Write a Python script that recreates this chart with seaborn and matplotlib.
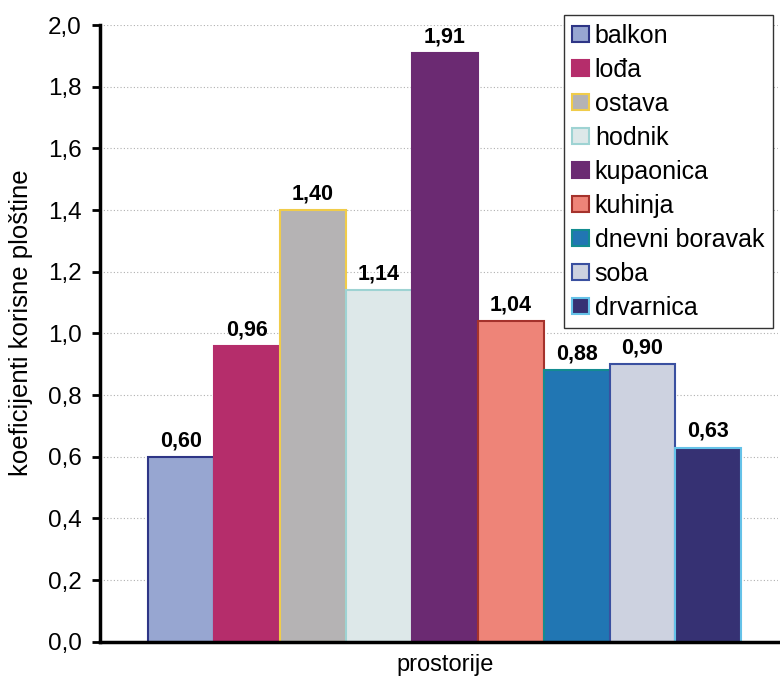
import pandas as pd
import matplotlib.pyplot as plt
import seaborn as sns
from matplotlib.patches import Patch
from matplotlib.ticker import FuncFormatter

rooms = ["balkon", "lođa", "ostava", "hodnik", "kupaonica", "kuhinja",
         "dnevni boravak", "soba", "drvarnica"]
values = [0.60, 0.96, 1.40, 1.14, 1.91, 1.04, 0.88, 0.90, 0.63]
faces = ["#97a6d1", "#b52d6b", "#b5b3b4", "#dde8e9", "#6b2a72",
         "#ee8478", "#2176b3", "#cdd2e0", "#363173"]
edges = ["#2e3586", "#b52d6b", "#f0cc4a", "#9ed3d3", "#6b2a72",
         "#a5322c", "#138c90", "#3a50a0", "#65c2e8"]

df = pd.DataFrame({"prostorije": ["prostorije"] * len(rooms),
                   "prostorija": rooms, "k": values})

sns.set_style("white", {"text.color": "black", "axes.labelcolor": "black",
                        "xtick.color": "black", "ytick.color": "black"})
plt.rcParams['font.family'] = ['Liberation Sans', 'DejaVu Sans']

fig = plt.figure(figsize=(7.8, 6.77), dpi=100)
ax = fig.add_axes([0.128, 0.052, 0.87, 0.911])

sns.barplot(data=df, x="prostorije", y="k", hue="prostorija",
            palette=faces, hue_order=rooms, saturation=1, legend=False,
            linewidth=1.5, ax=ax)

for cont, ec in zip(ax.containers, edges):
    for p in cont:
        p.set_edgecolor(ec)
    ax.bar_label(cont, labels=[f"{v:.2f}".replace(".", ",") for v in cont.datavalues],
                 padding=4, fontsize=15.5, fontweight="bold", color="black",
                 family=["Liberation Sans Narrow", "Liberation Sans"])

ax.set_ylim(0, 2.0)
ax.set_xlim(-0.465, 0.45)
ax.set_yticks([i / 10 for i in range(0, 21, 2)])
ax.yaxis.set_major_formatter(FuncFormatter(lambda v, _: f"{v:.1f}".replace(".", ",")))
ax.yaxis.grid(True, linestyle=(0, (1, 2)), color="#b0b0b0", linewidth=0.8)
ax.set_axisbelow(True)

for s in ["top", "right"]:
    ax.spines[s].set_visible(False)
for s in ["left", "bottom"]:
    ax.spines[s].set_linewidth(2.5)
    ax.spines[s].set_color("black")
ax.tick_params(axis="y", left=True, length=6, width=2, labelsize=17.5, pad=7)
ax.tick_params(axis="x", bottom=False, labelsize=17, pad=5)
ax.set_xlabel("")
ax.set_ylabel("koeficijenti korisne ploštine", fontsize=18.5)
ax.yaxis.set_label_coords(-0.099, 0.518)

handles = [Patch(facecolor=f, edgecolor=e, linewidth=1.5) for f, e in zip(faces, edges)]
leg = ax.legend(handles, rooms, loc="upper right", bbox_to_anchor=(0.992, 1.0164),
                fontsize=18, handlelength=0.65, handleheight=0.65,
                handletextpad=0.25, labelspacing=0.4, borderpad=0.35,
                borderaxespad=0, fancybox=False, framealpha=1,
                edgecolor="#333333")
leg.get_frame().set_linewidth(1)

plt.savefig("out.png")
